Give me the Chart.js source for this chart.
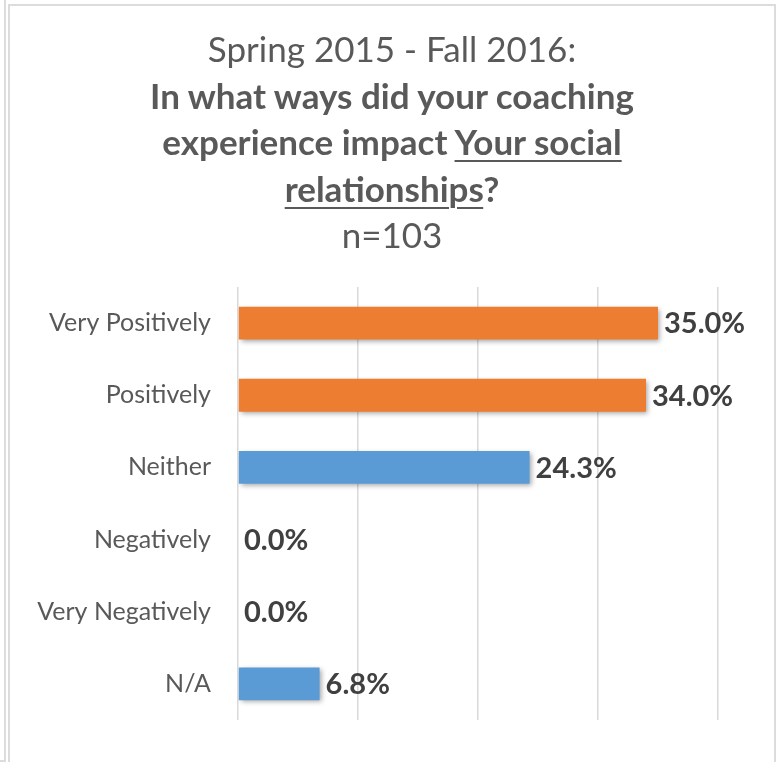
<!DOCTYPE html>
<html>
<head>
<meta charset="utf-8">
<title>Coaching impact on social relationships</title>
<script src="https://cdn.jsdelivr.net/npm/chart.js@4.4.1/dist/chart.umd.min.js"></script>
<style>
  html, body { margin: 0; padding: 0; background: #fff; }
  body { width: 780px; height: 762px; position: relative; overflow: hidden; font-family: Lato, "Open Sans", sans-serif; }
  .side-frame { position: absolute; left: -10px; top: -10px; width: 12px; height: 768px; border: 2px solid #dcdcdc; }
  .chart-frame { position: absolute; left: 8px; top: 4px; width: 764px; height: 800px; border: 2px solid #dcdcdc; }
  #chart { position: absolute; left: 0; top: 0; }
  .heading { position: absolute; left: 8px; top: 25px; width: 768px; text-align: center; color: #595959; font-size: 35px; line-height: 46.5px; }
  .heading b { font-weight: 700; font-size: 35px; }
  .heading u { text-underline-offset: 5px; text-decoration-thickness: 2px; }
</style>
</head>
<body>
<div class="side-frame"></div>
<div class="chart-frame"></div>
<canvas id="chart" width="780" height="762"></canvas>
<div class="heading">
  Spring 2015 - Fall 2016:<br>
  <b>In what ways did your coaching<br>experience impact <u>Your social</u><br><u>relationships</u>?</b><br>
  n=103
</div>
<script>
  // answers, top to bottom
  const categories = ["Very Positively", "Positively", "Neither", "Negatively", "Very Negatively", "N/A"];
  const percentages = [35.0, 34.0, 24.3, 0.0, 0.0, 6.8];
  const barColors = ["#ED7D31", "#ED7D31", "#5B9BD5", "#5B9BD5", "#5B9BD5", "#5B9BD5"];
  const xTicks = [0, 10, 20, 30, 40];

  // soft drop shadow under the bars, then bold value labels past each bar end
  const barLabels = {
    id: "barLabels",
    beforeDatasetsDraw(chart) {
      const ctx = chart.ctx;
      ctx.save();
      ctx.shadowColor = "rgba(0, 0, 0, 0.35)";
      ctx.shadowBlur = 5;
      ctx.shadowOffsetX = 2;
      ctx.shadowOffsetY = 2;
    },
    afterDatasetsDraw(chart) {
      const ctx = chart.ctx;
      ctx.restore();
      const meta = chart.getDatasetMeta(0);
      ctx.save();
      ctx.font = "bold 29px Lato";
      ctx.fillStyle = "#404040";
      ctx.textAlign = "left";
      ctx.textBaseline = "middle";
      meta.data.forEach((bar, i) => {
        const value = chart.data.datasets[0].data[i];
        ctx.fillText(value.toFixed(1) + "%", bar.x + 6, bar.y + 1);
      });
      ctx.restore();
    }
  };

  new Chart(document.getElementById("chart"), {
    type: "bar",
    data: {
      labels: categories,
      datasets: [{
        data: percentages,
        backgroundColor: barColors,
        borderWidth: 0,
        categoryPercentage: 1,
        barPercentage: 0.455
      }]
    },
    options: {
      indexAxis: "y",
      responsive: false,
      animation: false,
      devicePixelRatio: 1,
      layout: { padding: { top: 287, bottom: 27, right: 62, left: 0 } },
      plugins: {
        legend: { display: false },
        tooltip: { enabled: false },
        title: { display: false }
      },
      scales: {
        x: {
          min: xTicks[0],
          max: xTicks[xTicks.length - 1],
          afterBuildTicks: (axis) => { axis.ticks = xTicks.map(v => ({ value: v })); },
          afterFit: (axis) => { axis.height = 0; },
          ticks: { display: false },
          border: { display: false },
          grid: { color: "#d9d9d9", lineWidth: 1.5, drawTicks: false }
        },
        y: {
          afterFit: (axis) => { axis.width = 238; },
          border: { display: false },
          grid: { display: false, drawTicks: false },
          ticks: {
            color: "#595959",
            padding: 27,
            font: { family: "Lato", size: 25 }
          }
        }
      }
    },
    plugins: [barLabels]
  });
</script>
</body>
</html>
